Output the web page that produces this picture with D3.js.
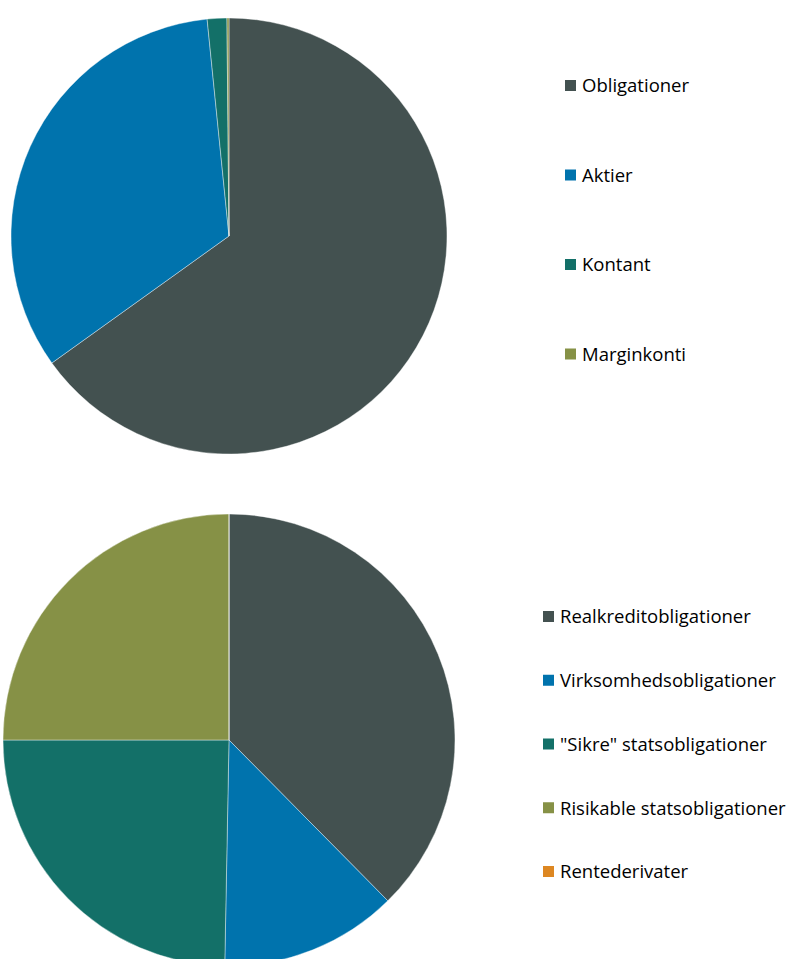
<!DOCTYPE html>
<html>
<head>
<meta charset="utf-8">
<script src="https://cdn.jsdelivr.net/npm/d3@7"></script>
<style>
  body { margin: 0; background: #fff; }
  text { font-family: "Open Sans", sans-serif; fill: #000; font-variant-ligatures: none; }
</style>
</head>
<body>
<div id="chart"></div>
<script>
// top pie: asset classes
var topLabels = ["Obligationer", "Aktier", "Kontant", "Marginkonti"];
var topValues = [65.1, 33.3, 1.45, 0.15];
var topColors = ["#435150", "#0073ad", "#137068", "#869146"];

// bottom pie: bond types
var bottomLabels = ["Realkreditobligationer", "Virksomhedsobligationer", "\"Sikre\" statsobligationer", "Risikable statsobligationer", "Rentederivater"];
var bottomValues = [37.6, 12.7, 24.7, 25.0, 0];
var bottomColors = ["#435150", "#0073ad", "#137068", "#869146", "#dd8722"];

var width = 789, height = 959;

var svg = d3
  .select("#chart")
  .append("svg")
  .attr("width", width)
  .attr("height", height);

function drawPie(labels, values, colors, cx, cy, r, legendX, legendY, legendStep, fontSize) {
  var data = labels.map(function (d, i) {
    return { name: d, value: values[i], color: colors[i] };
  });

  var pie = d3.pie().sort(null).value(function (d) { return d.value; });
  var arc = d3.arc().innerRadius(0).outerRadius(r);

  var g = svg.append("g").attr("transform", "translate(" + cx + "," + cy + ")");
  g.selectAll("path")
    .data(pie(data))
    .enter()
    .append("path")
    .attr("d", arc)
    .attr("fill", function (d) { return d.data.color; })
    .attr("stroke", "#fff")
    .attr("stroke-width", 0.4);

  var legend = svg
    .append("g")
    .attr("transform", "translate(" + legendX + "," + legendY + ")");
  var item = legend
    .selectAll("g")
    .data(data)
    .enter()
    .append("g")
    .attr("transform", function (d, i) { return "translate(0," + i * legendStep + ")"; });
  item
    .append("rect")
    .attr("x", 0)
    .attr("y", -6)
    .attr("width", 11)
    .attr("height", 11)
    .attr("fill", function (d) { return d.color; });
  item
    .append("text")
    .attr("x", 17)
    .attr("y", 0)
    .attr("dy", "0.35em")
    .style("font-size", fontSize + "px")
    .text(function (d) { return d.name; });
}

drawPie(topLabels, topValues, topColors, 229, 236, 218, 565, 86, 89.5, 18.5);
drawPie(bottomLabels, bottomValues, bottomColors, 229, 740, 226, 543, 617, 63.75, 18.5);
</script>
</body>
</html>
